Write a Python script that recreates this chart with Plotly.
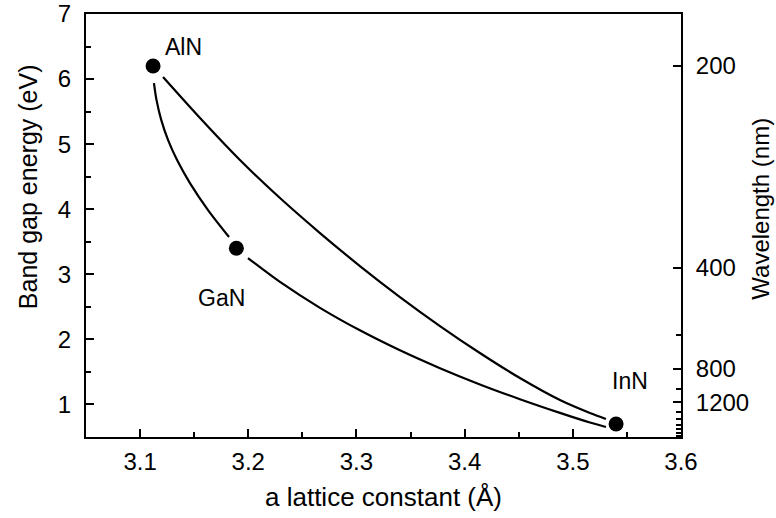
import plotly.graph_objects as go

# Binary nitride end points: lattice constant a (Å) and band gap (eV)
compounds = ["AlN", "GaN", "InN"]
lattice_a = [3.112, 3.189, 3.540]
band_gap = [6.2, 3.4, 0.7]

# Ternary alloy curves
alinn_a = [3.1212, 3.1554, 3.1923, 3.2293, 3.2663, 3.3032, 3.3402, 3.3772,
           3.4141, 3.4511, 3.4881, 3.5158, 3.5306]
alinn_e = [6.031, 5.401, 4.756, 4.172, 3.634, 3.127, 2.651, 2.205,
           1.791, 1.406, 1.068, 0.869, 0.777]

algan_a = [3.1128, 3.1152, 3.1196, 3.1259, 3.1342, 3.1461, 3.1628, 3.1822]
algan_e = [5.939, 5.677, 5.370, 5.063, 4.756, 4.402, 3.987, 3.573]

ingan_a = [3.1997, 3.2293, 3.2663, 3.3032, 3.3402, 3.3772, 3.4141, 3.4511,
           3.4881, 3.5158, 3.5306]
ingan_e = [3.250, 2.883, 2.485, 2.139, 1.832, 1.557, 1.308, 1.081,
           0.871, 0.723, 0.654]

# Right-hand wavelength scale (nm), placed at E = 1240 / lambda
wl_major = [200, 400, 800, 1200]
wl_minor = [600, 1000, 1400, 1600, 1800, 2000, 2200, 2400]

FONT = "Liberation Sans, Arial, sans-serif"
line_style = dict(color="black", width=2.2, shape="spline", smoothing=0.8)

fig = go.Figure()
for xa, ye in [(alinn_a, alinn_e), (algan_a, algan_e), (ingan_a, ingan_e)]:
    fig.add_trace(go.Scatter(x=xa, y=ye, mode="lines", line=line_style,
                             hoverinfo="skip", showlegend=False))

fig.add_trace(go.Scatter(x=lattice_a, y=band_gap, mode="markers",
                         marker=dict(color="black", size=15),
                         text=compounds, showlegend=False))

# invisible trace to activate the right axis
fig.add_trace(go.Scatter(x=[lattice_a[0]], y=[band_gap[0]], yaxis="y2",
                         mode="markers", marker=dict(opacity=0),
                         hoverinfo="skip", showlegend=False))

label_pos = {"AlN": (3.1397, 6.49), "GaN": (3.1757, 2.64), "InN": (3.5528, 1.36)}
for name in compounds:
    lx, ly = label_pos[name]
    fig.add_annotation(x=lx, y=ly, text=name, showarrow=False,
                       font=dict(family=FONT, size=23, color="black"))

# vertical axis titles
fig.add_annotation(xref="paper", yref="paper", x=-0.0975, y=0.593,
                   text="Band gap energy (eV)", textangle=-90, showarrow=False,
                   xanchor="center", yanchor="middle",
                   font=dict(family=FONT, size=25, color="black"))
fig.add_annotation(xref="paper", yref="paper", x=1.133, y=0.54,
                   text="Wavelength (nm)", textangle=-90, showarrow=False,
                   xanchor="center", yanchor="middle",
                   font=dict(family=FONT, size=24, color="black"))

axis_common = dict(showline=True, linecolor="black", linewidth=2,
                   ticks="inside", ticklen=8, tickwidth=1.5, tickcolor="black",
                   showgrid=False, zeroline=False, automargin=False,
                   tickfont=dict(family=FONT, size=24, color="black"))
minor_style = dict(ticks="inside", ticklen=5, tickwidth=1.5, tickcolor="black")

fig.update_layout(
    width=776, height=518,
    margin=dict(l=86, r=95, t=14, b=81),
    paper_bgcolor="white", plot_bgcolor="white",
    xaxis=dict(range=[3.05, 3.6], tickvals=[3.1, 3.2, 3.3, 3.4, 3.5, 3.6],
               ticktext=["3.1", "3.2", "3.3", "3.4", "3.5", "3.6"],
               minor=dict(tickvals=[3.15, 3.25, 3.35, 3.45, 3.55], **minor_style),
               ticklabelstandoff=2,
               title=dict(text="a lattice constant (Å)", standoff=14,
                          font=dict(family=FONT, size=26, color="black")),
               mirror=True, **axis_common),
    yaxis=dict(range=[0.5, 7], tickvals=[1, 2, 3, 4, 5, 6, 7],
               minor=dict(tickvals=[1.5, 2.5, 3.5, 4.5, 5.5, 6.5], **minor_style),
               ticklabelstandoff=8,
               **axis_common),
    yaxis2=dict(overlaying="y", side="right", range=[0.5, 7],
                tickvals=[1240 / w for w in wl_major],
                ticktext=[str(w) for w in wl_major],
                minor=dict(tickvals=[1240 / w for w in wl_minor], **minor_style),
                ticklabelstandoff=8,
                **axis_common),
)

fig.write_html("out.html")
